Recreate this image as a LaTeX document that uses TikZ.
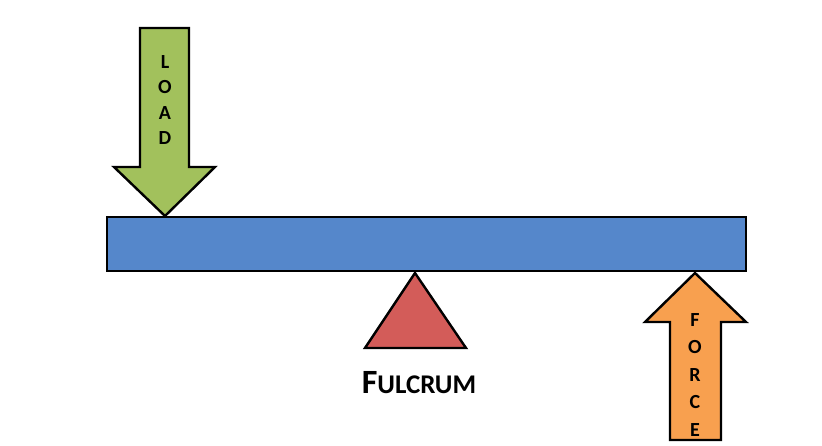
\documentclass[tikz,border=0pt]{standalone}
\usepackage{fontspec}
\setmainfont{Carlito}
\definecolor{beamblue}{HTML}{5587CB}
\definecolor{loadgreen}{HTML}{A2C15C}
\definecolor{forceorange}{HTML}{F8A04F}
\definecolor{fulcrumred}{HTML}{D35C59}
\begin{document}
\begin{tikzpicture}[x=1pt,y=-1pt,line join=miter,
  outline/.style={draw=black,line width=2.4pt},
  vlabel/.style={align=center,inner sep=0pt,font=\bfseries\fontsize{20}{25.5}\selectfont}]
\useasboundingbox (0,0) rectangle (822,446);
\fill[white] (0,0) rectangle (822,446);
% beam
\draw[outline,fill=beamblue] (107,217) rectangle (746,271);
% load arrow
\draw[outline,fill=loadgreen] (140,28) -- (189,28) -- (189,167) -- (215,167) -- (165,216) -- (114,167) -- (140,167) -- cycle;
% force arrow
\draw[outline,fill=forceorange] (695,273) -- (746,322) -- (721,322) -- (721,440) -- (670,440) -- (670,322) -- (645,322) -- cycle;
% fulcrum
\draw[outline,fill=fulcrumred] (415,273) -- (466,348) -- (365,348) -- cycle;
% labels
\node[vlabel] (load) at (165,100) {L\\O\\A\\D};
\node[vlabel,font=\bfseries\fontsize{20}{27.5}\selectfont] (force) at (695,375) {F\\O\\R\\C\\E};
\node[inner sep=0pt,font=\bfseries] (fulcrum) at (419,383) {\fontsize{34}{34}\selectfont F\fontsize{27}{27}\selectfont ULCRUM};
\end{tikzpicture}
\end{document}
